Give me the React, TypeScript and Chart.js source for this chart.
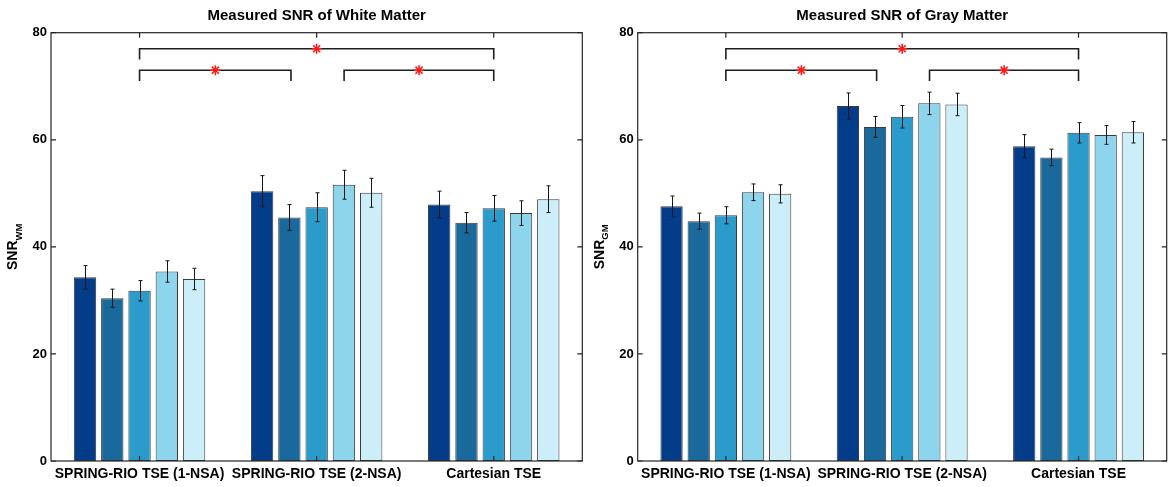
import React, { useEffect, useRef } from 'react';
import { Chart, registerables } from 'chart.js';

Chart.register(...registerables);
Chart.defaults.font.family = "'Liberation Sans', Arial, Helvetica, sans-serif";

// ---------- data ----------
const categories = ['SPRING-RIO TSE (1-NSA)', 'SPRING-RIO TSE (2-NSA)', 'Cartesian TSE'];
const yTicks = [0, 20, 40, 60, 80];
const barColors = ['#033d89', '#1a699d', '#2a9bcb', '#8dd4ed', '#cbeef9'];

// White matter SNR (five series per category) and standard errors
const wmS1 = [34.3, 50.4, 47.9];
const wmS2 = [30.4, 45.5, 44.5];
const wmS3 = [31.8, 47.4, 47.2];
const wmS4 = [35.4, 51.6, 46.3];
const wmS5 = [34.0, 50.1, 48.9];
const wmE1 = [2.2, 2.9, 2.5];
const wmE2 = [1.7, 2.4, 1.9];
const wmE3 = [1.9, 2.7, 2.4];
const wmE4 = [2.0, 2.7, 2.3];
const wmE5 = [2.0, 2.7, 2.5];

// Gray matter SNR and standard errors
const gmS1 = [47.6, 66.3, 58.8];
const gmS2 = [44.8, 62.4, 56.7];
const gmS3 = [45.9, 64.3, 61.3];
const gmS4 = [50.2, 66.8, 60.9];
const gmS5 = [49.9, 66.6, 61.4];
const gmE1 = [1.9, 2.45, 2.15];
const gmE2 = [1.5, 1.95, 1.55];
const gmE3 = [1.6, 2.1, 1.9];
const gmE4 = [1.55, 2.1, 1.75];
const gmE5 = [1.7, 2.1, 2.0];

// Significance brackets (category-index units) and stars
const bracketX0 = [0, 0, 1.155];
const bracketX1 = [2, 0.855, 2];
const bracketY = [77, 73, 73];
const bracketLeg = [75, 71, 71];
const starX = [1, 0.428, 1.578];
const starY = [77, 73, 73];

// ---------- plugins ----------
const errorBarPlugin = {
  id: 'errorBars',
  afterDatasetsDraw(chart: any) {
    const ctx = chart.ctx;
    const y = chart.scales.y;
    ctx.save();
    ctx.strokeStyle = '#151515';
    ctx.lineWidth = 1;
    chart.data.datasets.forEach((ds: any, i: number) => {
      if (!ds.errors) return;
      const meta = chart.getDatasetMeta(i);
      meta.data.forEach((el: any, j: number) => {
        const v = ds.data[j];
        const e = ds.errors[j];
        const yt = y.getPixelForValue(v + e);
        const yb = y.getPixelForValue(v - e);
        const x = Math.round(el.x) + 0.5;
        ctx.beginPath();
        ctx.moveTo(x, yt);
        ctx.lineTo(x, yb);
        ctx.moveTo(x - 2, yt);
        ctx.lineTo(x + 2, yt);
        ctx.moveTo(x - 2, yb);
        ctx.lineTo(x + 2, yb);
        ctx.stroke();
      });
    });

    // significance brackets
    const x = chart.scales.x;
    ctx.strokeStyle = '#1e1e1e';
    ctx.lineWidth = 1.6;
    bracketX0.forEach((x0, i) => {
      const px0 = x.getPixelForValue(x0);
      const px1 = x.getPixelForValue(bracketX1[i]);
      const py = y.getPixelForValue(bracketY[i]);
      const pl = y.getPixelForValue(bracketLeg[i]);
      ctx.beginPath();
      ctx.moveTo(px0, pl);
      ctx.lineTo(px0, py);
      ctx.lineTo(px1, py);
      ctx.lineTo(px1, pl);
      ctx.stroke();
    });
    // stars
    ctx.strokeStyle = '#ff1a1a';
    ctx.lineWidth = 1.6;
    const r = 5;
    starX.forEach((sx, i) => {
      const cx = x.getPixelForValue(sx);
      const cy = y.getPixelForValue(starY[i]);
      ctx.beginPath();
      for (let k = 0; k < 4; k++) {
        const ang = (k * Math.PI) / 4;
        ctx.moveTo(cx - r * Math.cos(ang), cy - r * Math.sin(ang));
        ctx.lineTo(cx + r * Math.cos(ang), cy + r * Math.sin(ang));
      }
      ctx.stroke();
    });
    ctx.restore();
  },
};

const framePlugin = {
  id: 'frame',
  afterDraw(chart: any) {
    const ctx = chart.ctx;
    const a = chart.chartArea;
    const x = chart.scales.x;
    const y = chart.scales.y;
    ctx.save();
    ctx.strokeStyle = '#262626';
    ctx.lineWidth = 1.2;
    ctx.strokeRect(a.left, a.top, a.right - a.left, a.bottom - a.top);
    ctx.beginPath();
    yTicks.forEach((t) => {
      const py = y.getPixelForValue(t);
      ctx.moveTo(a.left, py);
      ctx.lineTo(a.left + 5, py);
      ctx.moveTo(a.right, py);
      ctx.lineTo(a.right - 5, py);
    });
    categories.forEach((_c, i) => {
      const px = x.getPixelForValue(i);
      ctx.moveTo(px, a.bottom);
      ctx.lineTo(px, a.bottom - 5);
      ctx.moveTo(px, a.top);
      ctx.lineTo(px, a.top + 5);
    });
    ctx.stroke();

    // y-axis title with subscript
    const sub = chart.options.plugins.yTitle.sub;
    const cy = (a.top + a.bottom) / 2;
    const bx = chart.options.plugins.yTitle.x;
    ctx.fillStyle = '#000';
    ctx.translate(bx, cy);
    ctx.rotate(-Math.PI / 2);
    ctx.textBaseline = 'alphabetic';
    ctx.textAlign = 'left';
    const mainFont = "bold 14px 'Liberation Sans', Arial, sans-serif";
    const subFont = "bold 9.5px 'Liberation Sans', Arial, sans-serif";
    ctx.font = mainFont;
    const w1 = ctx.measureText('SNR').width;
    ctx.font = subFont;
    const w2 = ctx.measureText(sub).width;
    const start = -(w1 + w2) / 2;
    ctx.font = mainFont;
    ctx.fillText('SNR', start, 0);
    ctx.font = subFont;
    ctx.fillText(sub, start + w1, 4.5);
    ctx.restore();
  },
};

// ---------- chart component ----------
type Props = {
  title: string;
  sub: string;
  series: number[][];
  errors: number[][];
  width: number;
  yWidth: number;
  rightPad: number;
  titleX: number;
};

function SnrChart({ title, sub, series, errors, width, yWidth, rightPad, titleX }: Props) {
  const ref = useRef<HTMLCanvasElement | null>(null);
  useEffect(() => {
    if (!ref.current) return;
    const barSets: any[] = series.map((s, i) => ({
      label: 'S' + (i + 1),
      data: s,
      errors: errors[i],
      backgroundColor: barColors[i],
      borderColor: 'rgba(25,25,25,0.85)',
      borderWidth: 1,
      borderSkipped: false,
      barPercentage: 0.82,
      categoryPercentage: 0.77,
    }));
    const chart = new Chart(ref.current, {
      type: 'bar',
      data: { labels: categories, datasets: barSets },
      options: {
        responsive: false,
        animation: false,
        devicePixelRatio: 1,
        layout: { padding: { top: 1, right: rightPad, left: 0, bottom: 0 } },
        plugins: {
          legend: { display: false },
          tooltip: { enabled: false },
          title: {
            display: true,
            text: title,
            fullSize: false,
            color: '#000',
            font: { size: 15, weight: 'bold' },
            padding: { top: 6, bottom: 7.7 },
          },
          yTitle: { sub, x: titleX },
        } as any,
        scales: {
          x: {
            type: 'category',
            grid: { display: false, drawTicks: false },
            border: { display: false },
            ticks: {
              color: '#000',
              font: { size: 14, weight: 'bold' },
              padding: 5,
              maxRotation: 0,
              autoSkip: false,
            },
            afterFit: (s: any) => {
              s.height = 26;
            },
          },
          y: {
            type: 'linear',
            min: 0,
            max: 80,
            grid: { display: false, drawTicks: false },
            border: { display: false },
            ticks: {
              stepSize: 20,
              color: '#000',
              font: { size: 13, weight: 'bold' },
              padding: 4,
            },
            afterFit: (s: any) => {
              s.width = yWidth;
            },
          },
        },
      } as any,
      plugins: [errorBarPlugin, framePlugin],
    });
    return () => chart.destroy();
  }, []);
  return <canvas ref={ref} width={width} height={487} style={{ display: 'block' }} />;
}

export default function App() {
  return (
    <div style={{ position: 'fixed', left: 0, top: 0, width: 1169, height: 487, background: '#fff', display: 'flex' }}>
      <SnrChart
        title="Measured SNR of White Matter"
        sub="WM"
        series={[wmS1, wmS2, wmS3, wmS4, wmS5]}
        errors={[wmE1, wmE2, wmE3, wmE4, wmE5]}
        width={585}
        yWidth={51}
        rightPad={2.7}
        titleX={17}
      />
      <SnrChart
        title="Measured SNR of Gray Matter"
        sub="GM"
        series={[gmS1, gmS2, gmS3, gmS4, gmS5]}
        errors={[gmE1, gmE2, gmE3, gmE4, gmE5]}
        width={584}
        yWidth={52.7}
        rightPad={2.3}
        titleX={18.7}
      />
    </div>
  );
}
